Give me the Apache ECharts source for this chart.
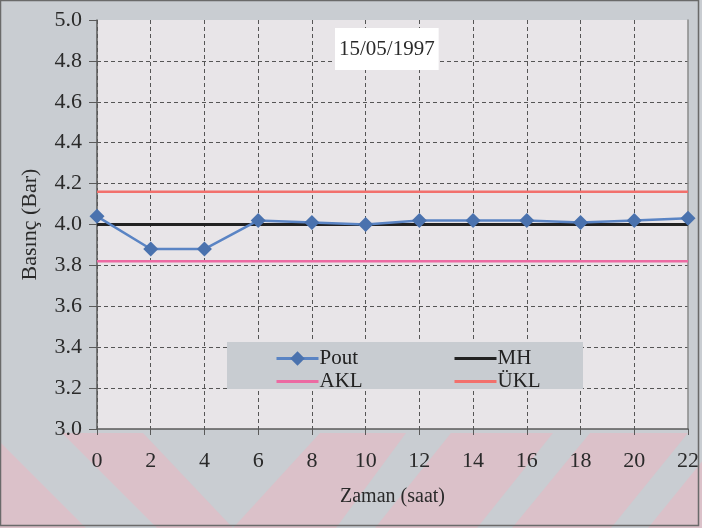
<!DOCTYPE html>
<html>
<head>
<meta charset="utf-8">
<script src="https://cdn.jsdelivr.net/npm/echarts@6/dist/echarts.min.js"></script>
<style>
  html, body { margin: 0; padding: 0; background: #c9cdd2; }
  #chart { width: 702px; height: 528px; }
</style>
</head>
<body>
<div id="chart"></div>
<script>
// Hourly outlet pressure readings for 15/05/1997 with control limits
const hours = [0, 2, 4, 6, 8, 10, 12, 14, 16, 18, 20, 22];
const pout  = [4.04, 3.88, 3.88, 4.02, 4.01, 4.00, 4.02, 4.02, 4.02, 4.01, 4.02, 4.03];
const mh    = [4.00, 4.00, 4.00, 4.00, 4.00, 4.00, 4.00, 4.00, 4.00, 4.00, 4.00, 4.00];
const akl   = [3.82, 3.82, 3.82, 3.82, 3.82, 3.82, 3.82, 3.82, 3.82, 3.82, 3.82, 3.82];
const ukl   = [4.16, 4.16, 4.16, 4.16, 4.16, 4.16, 4.16, 4.16, 4.16, 4.16, 4.16, 4.16];
const dateLabel = '15/05/1997';

const FONT = 'Liberation Serif';
const pair = (vals) => hours.map((h, i) => [h, vals[i]]);

// decorative diagonal bands under the plot
const pink = '#dbc1c9';
const bands = [
  [[0, 442], [86, 528], [0, 528]],
  [[62, 433], [143, 433], [233, 528], [157, 528]],
  [[320, 433], [406, 433], [336, 528], [233, 528]],
  [[451, 433], [553, 433], [477, 528], [375, 528]],
  [[590, 433], [688, 433], [611, 528], [512, 528]],
  [[725, 433], [702, 461], [702, 528], [648, 528]]
];

const legendText = { fontFamily: FONT, fontSize: 21, color: '#222', lineHeight: 20, padding: [0, 0, 0, -4] };
const markerLine = (name) => ({ name, lineStyle: { width: 3 } });
const plainLine = (name) => ({ name, itemStyle: { opacity: 0 }, lineStyle: { width: 3 } });

const chart = echarts.init(document.getElementById('chart'));
chart.setOption({
  backgroundColor: '#c9cdd2',
  animation: false,
  title: {
    text: dateLabel,
    left: 335,
    top: 28,
    padding: [8, 4, 8, 4],
    backgroundColor: '#ffffff',
    textStyle: { fontFamily: FONT, fontSize: 21, fontWeight: 'normal', color: '#2a2a2a', lineHeight: 26 }
  },
  grid: {
    left: 97, right: 11, top: 20, bottom: 99,
    show: true, backgroundColor: '#e8e5e8', borderWidth: 0
  },
  legend: [
    {
      data: [markerLine('Pout'), plainLine('AKL')],
      orient: 'vertical', left: 275, top: 348, padding: 0,
      itemWidth: 42, itemHeight: 18, itemGap: 2,
      textStyle: legendText
    },
    {
      data: [plainLine('MH'), plainLine('ÜKL')],
      orient: 'vertical', left: 453, top: 348, padding: 0,
      itemWidth: 42, itemHeight: 18, itemGap: 2,
      textStyle: legendText
    }
  ],
  xAxis: {
    type: 'value', min: 0, max: 22, interval: 2,
    name: 'Zaman (saat)', nameLocation: 'middle', nameGap: 58,
    nameTextStyle: { fontFamily: FONT, fontSize: 20, color: '#2a2a2a' },
    axisLine: { lineStyle: { color: '#5a5a5a', width: 1.5 } },
    axisTick: { length: 6, lineStyle: { color: '#5a5a5a' } },
    axisLabel: { fontFamily: FONT, fontSize: 22, color: '#2a2a2a', margin: 21 },
    splitLine: { show: true, showMaxLine: false, lineStyle: { color: '#555', type: [4, 3], width: 1 } }
  },
  yAxis: [
    {
      type: 'value', min: 3.0, max: 5.0, interval: 0.2,
      name: 'Basınç (Bar)', nameLocation: 'middle', nameGap: 56,
      nameTextStyle: { fontFamily: FONT, fontSize: 22, color: '#2a2a2a' },
      axisLine: { show: true, lineStyle: { color: '#5a5a5a', width: 1.5 } },
      axisTick: { show: true, length: 8, lineStyle: { color: '#5a5a5a' } },
      axisLabel: { fontFamily: FONT, fontSize: 22, color: '#2a2a2a', margin: 15,
                   formatter: (v) => v.toFixed(1) },
      splitLine: { show: true, showMinLine: false, showMaxLine: false,
                   lineStyle: { color: '#555', type: [4, 3], width: 1 } }
    },
    {
      type: 'value', min: 3.0, max: 5.0, position: 'right',
      axisLine: { show: true, lineStyle: { color: '#8a8a8a', width: 1.5 } },
      axisTick: { show: false }, axisLabel: { show: false }, splitLine: { show: false }
    }
  ],
  graphic: [
    ...bands.map((pts) => ({
      type: 'polygon', z: -1, silent: true,
      shape: { points: pts }, style: { fill: pink }
    })),
    {
      type: 'rect', z: 3, silent: true,
      shape: { x: 227, y: 342, width: 356, height: 47 },
      style: { fill: '#c8ccd1' }
    },
    {
      type: 'rect', z: 10, silent: true,
      shape: { x: 0.5, y: 0.5, width: 698, height: 525 },
      style: { fill: 'none', stroke: '#6a6a6a', lineWidth: 1.5 }
    }
  ],
  series: [
    {
      name: 'Pout', type: 'line', data: pair(pout), z: 5,
      symbol: 'diamond', symbolSize: 15,
      lineStyle: { color: '#5a84c4', width: 2.5 },
      itemStyle: { color: '#4a72ae' }
    },
    {
      name: 'MH', type: 'line', data: pair(mh), z: 4,
      symbol: 'none',
      lineStyle: { color: '#222222', width: 3 },
      itemStyle: { color: '#222222' }
    },
    {
      name: 'AKL', type: 'line', data: pair(akl), z: 4,
      symbol: 'none',
      lineStyle: { color: '#ec6aa2', width: 2.5 },
      itemStyle: { color: '#ec6aa2' }
    },
    {
      name: 'ÜKL', type: 'line', data: pair(ukl), z: 4,
      symbol: 'none',
      lineStyle: { color: '#f2706c', width: 2.5 },
      itemStyle: { color: '#f2706c' }
    }
  ]
});
</script>
</body>
</html>
